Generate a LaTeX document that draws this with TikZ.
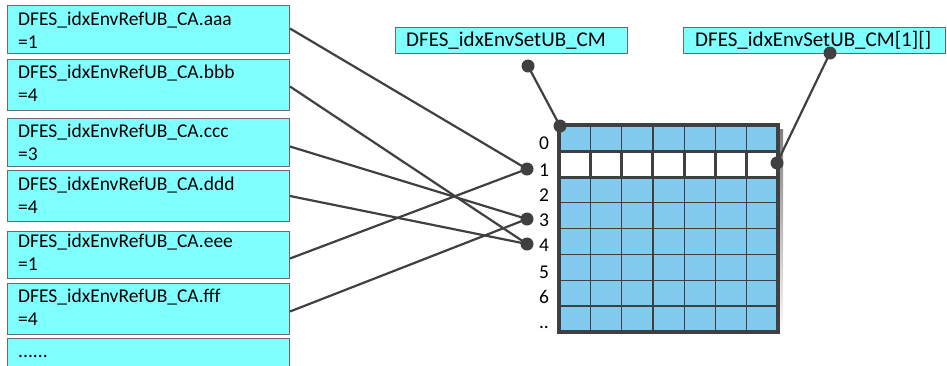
\documentclass[tikz,border=0pt]{standalone}
\usepackage{fontspec}
\setmainfont{Carlito}
\definecolor{boxcyan}{RGB}{128,255,255}
\definecolor{cellblue}{RGB}{130,202,238}
\definecolor{ink}{RGB}{64,64,64}
\definecolor{boxedge}{RGB}{105,105,105}
\definecolor{shade}{RGB}{225,225,225}
\tikzset{
  refbox/.style={draw=boxedge, fill=boxcyan, line width=1pt, anchor=north west, inner sep=0pt, minimum width=282pt},
  reftext/.style={anchor=base west, inner sep=0pt, align=left, font=\fontsize{19.5}{23}\selectfont},
  settext/.style={anchor=base west, inner sep=0pt, font=\fontsize{21}{24}\selectfont},
  lbl/.style={anchor=base, inner sep=0pt, font=\fontsize{19.5}{23}\selectfont},
  dot/.style={circle, fill=ink, inner sep=0pt, minimum size=13pt},
  conn/.style={draw=ink, line width=2.2pt},
}
\begin{document}
\begin{tikzpicture}[x=1pt,y=-1pt]
\useasboundingbox (0,0) rectangle (947,365);
% left boxes
\node[refbox, minimum height=48pt] (aaa) at (7,5) {};
\node[refbox, minimum height=51pt] (bbb) at (7,59) {};
\node[refbox, minimum height=48pt] (ccc) at (7,118) {};
\node[refbox, minimum height=51pt] (ddd) at (7,170) {};
\node[refbox, minimum height=47pt] (eee) at (7,231) {};
\node[refbox, minimum height=51pt] (fff) at (7,283) {};
\node[refbox, minimum height=45pt] (more) at (7,338) {};
% (multi-line nodes: base anchor is the last line)
\node[reftext] (taaa) at (18,48) {DFES\_idxEnvRefUB\_CA.aaa\\=1};
\node[reftext] (tbbb) at (18,101) {DFES\_idxEnvRefUB\_CA.bbb\\=4};
\node[reftext] (tccc) at (18,160) {DFES\_idxEnvRefUB\_CA.ccc\\=3};
\node[reftext] (tddd) at (18,213) {DFES\_idxEnvRefUB\_CA.ddd\\=4};
\node[reftext] (teee) at (18,270) {DFES\_idxEnvRefUB\_CA.eee\\=1};
\node[reftext] (tfff) at (18,325) {DFES\_idxEnvRefUB\_CA.fff\\=4};
\node[reftext] (tmore) at (18,357) {......};
% top boxes
\node[refbox, minimum width=232pt, minimum height=26pt] (setcm) at (395,27) {};
\node[settext] (tsetcm) at (406,46) {DFES\_idxEnvSetUB\_CM};
\node[refbox, minimum width=262pt, minimum height=26pt] (setrow) at (683,27) {};
\node[settext] (tsetrow) at (695,46) {DFES\_idxEnvSetUB\_CM[1][]};
% grid
\fill[shade] (563,129) rectangle (783,337);
\fill[cellblue] (559,125) rectangle (778,332);
\fill[white] (559,151.9) rectangle (778,177.8);
\foreach \i in {1,...,6} \draw[ink, line width=1.3pt] ({559+\i*31.286},125) -- ({559+\i*31.286},332);
\foreach \j in {2,...,7} \draw[ink, line width=1.3pt] (559,{125+\j*25.875}) -- (778,{125+\j*25.875});
\foreach \i in {1,...,6} \draw[ink, line width=3pt] ({559+\i*31.286},151.9) -- ({559+\i*31.286},177.8);
\draw[ink, line width=3pt] (559,151.9) -- (778,151.9) (559,177.8) -- (778,177.8);
\draw[ink, line width=4pt] (559,125) rectangle (778,332);
% row labels
\node[lbl] (l0) at (544,149.5) {0};
\node[lbl] (l1) at (544,176) {1};
\node[lbl] (l2) at (544,201) {2};
\node[lbl] (l3) at (544,226) {3};
\node[lbl] (l4) at (544,251) {4};
\node[lbl] (l5) at (544,278) {5};
\node[lbl] (l6) at (544,303) {6};
\node[lbl] (ldd) at (544,328) {..};
% dots
\node[dot] (d1) at (527,169) {};
\node[dot] (d3) at (527,219) {};
\node[dot] (d4) at (527,244) {};
\node[dot] (dtop) at (528,66) {};
\node[dot] (dcorner) at (560,126) {};
\node[dot] (dright) at (777,163) {};
\node[dot] (dset) at (830,53) {};
% connectors
\draw[conn] ([yshift=1pt]aaa.east) -- (d1.center);
\draw[conn] ([yshift=-1.5pt]bbb.east) -- (d4.center);
\draw[conn] ([yshift=-4pt]ccc.east) -- (d3.center);
\draw[conn] (ddd.east) -- (d4.center);
\draw[conn] ([yshift=-3.5pt]eee.east) -- (d1.center);
\draw[conn] ([yshift=-2.5pt]fff.east) -- (d3.center);
\draw[conn] (dtop.center) -- (dcorner.center);
\draw[conn] (dset.center) -- (dright.center);
\end{tikzpicture}
\end{document}
